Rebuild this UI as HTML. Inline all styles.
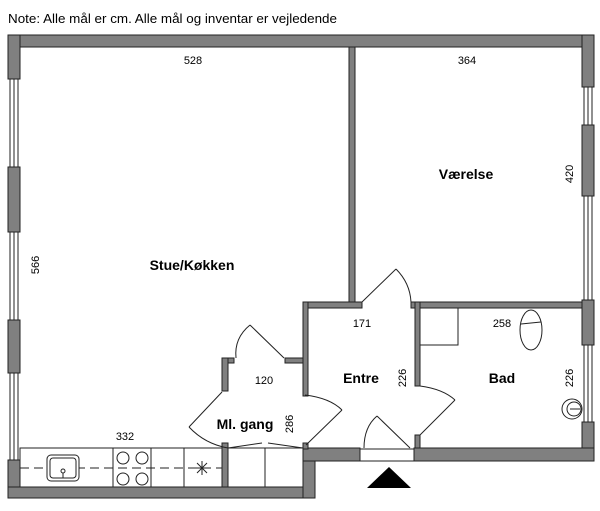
<!DOCTYPE html>
<html><head><meta charset="utf-8"><style>
html,body{margin:0;padding:0;background:#fff;width:600px;height:511px;overflow:hidden}
svg{display:block}
text{font-family:"Liberation Sans",sans-serif;fill:#000}
.d{font-size:11px}
.r{font-size:14px;font-weight:bold}
</style></head><body>
<svg width="600" height="511" viewBox="0 0 600 511">
<text x="8" y="23" font-size="13" textLength="329" lengthAdjust="spacingAndGlyphs">Note: Alle mål er cm. Alle mål og inventar er vejledende</text>
<g fill="#808080" stroke="#222" stroke-width="1">
<!-- top wall -->
<rect x="8" y="35" width="586" height="12"/>
<!-- left wall segments -->
<rect x="8" y="35" width="12" height="44"/>
<rect x="8" y="167" width="12" height="65"/>
<rect x="8" y="320" width="12" height="53"/>
<rect x="8" y="460" width="12" height="38"/>
<!-- right wall segments -->
<rect x="582" y="35" width="12" height="52"/>
<rect x="582" y="125" width="12" height="71"/>
<rect x="582" y="300" width="12" height="45"/>
<rect x="582" y="422" width="12" height="39"/>
<!-- bottom walls -->
<rect x="8" y="487" width="307" height="11"/>
<rect x="303" y="448" width="12" height="50"/>
<rect x="303" y="448" width="57" height="13"/>
<rect x="414" y="448" width="180" height="13"/>
<!-- interior -->
<rect x="349" y="47" width="6" height="256"/>
<rect x="303" y="302" width="59" height="6"/>
<rect x="411" y="302" width="171" height="6"/>
<rect x="303" y="302" width="5" height="94"/>
<rect x="303" y="443" width="5" height="6"/>
<rect x="415" y="302" width="5" height="84"/>
<rect x="415" y="435" width="5" height="13"/>
<rect x="222" y="358" width="12" height="5"/>
<rect x="222" y="358" width="6" height="33"/>
<rect x="285" y="358" width="18" height="5"/>
<rect x="222" y="443" width="6" height="44"/>
</g>
<g fill="#fff" stroke="#222" stroke-width="1">
<!-- windows -->
<rect x="10" y="79" width="8" height="88"/><line x1="14" y1="79" x2="14" y2="167"/>
<rect x="10" y="232" width="8" height="88"/><line x1="14" y1="232" x2="14" y2="320"/>
<rect x="10" y="373" width="8" height="87"/><line x1="14" y1="373" x2="14" y2="460"/>
<rect x="584" y="87" width="8" height="38"/><line x1="588" y1="87" x2="588" y2="125"/>
<rect x="584" y="196" width="8" height="104"/><line x1="588" y1="196" x2="588" y2="300"/>
<rect x="584" y="345" width="8" height="77"/><line x1="588" y1="345" x2="588" y2="422"/>
<rect x="360" y="449" width="54" height="12"/>
</g>
<g fill="none" stroke="#222" stroke-width="1">
<!-- doors -->
<line x1="284" y1="358" x2="250" y2="325"/><path d="M250 325 Q234 338 236 358"/>
<line x1="222" y1="392" x2="189" y2="427"/><path d="M189 427 Q205 444 228 448"/>
<path d="M305 395 Q330 398 342 410"/><line x1="342" y1="410" x2="306" y2="445"/>
<line x1="228" y1="448" x2="262" y2="443"/><line x1="268" y1="443" x2="303" y2="448"/>
<line x1="362" y1="302" x2="396" y2="269"/><path d="M396 269 Q410 283 411 302"/>
<path d="M420 386 Q443 389 455 400"/><line x1="455" y1="400" x2="420" y2="435"/>
<path d="M364 448 Q364 427 377 416"/><line x1="377" y1="416" x2="410" y2="448"/>
<!-- kitchen -->
<rect x="20" y="448" width="202" height="39"/>
<line x1="113" y1="448" x2="113" y2="487"/><line x1="151" y1="448" x2="151" y2="487"/><line x1="184" y1="448" x2="184" y2="487"/>
<line x1="20" y1="468" x2="222" y2="468" stroke-dasharray="9,5"/>
<rect x="228" y="448" width="75" height="39"/><line x1="265" y1="448" x2="265" y2="487"/>
<rect x="47" y="455" width="32" height="26" rx="4" fill="#fff"/><rect x="50" y="458" width="26" height="20" rx="3"/>
<circle cx="63" cy="471" r="2"/><line x1="63" y1="473" x2="63" y2="478"/>
<circle cx="123" cy="458" r="6"/><circle cx="142" cy="458" r="6"/><circle cx="123" cy="479" r="6"/><circle cx="142" cy="479" r="6"/>
<line x1="202" y1="461" x2="202" y2="475"/><line x1="195" y1="468" x2="209" y2="468"/><line x1="197" y1="463" x2="207" y2="473"/><line x1="207" y1="463" x2="197" y2="473"/>
<!-- bath -->
<rect x="420" y="308" width="38" height="37"/>
<ellipse cx="531" cy="330" rx="11" ry="20"/><line x1="521" y1="324" x2="541" y2="322"/>
<circle cx="572" cy="409" r="10"/><circle cx="574" cy="409" r="7"/><line x1="570" y1="409" x2="580" y2="409"/>
</g>
<polygon points="367,488 411,488 389,467" fill="#000"/>
<g class="d" text-anchor="middle">
<text x="193" y="64">528</text>
<text x="467" y="64">364</text>
<text x="125" y="440">332</text>
<text x="264" y="384">120</text>
<text x="362" y="327">171</text>
<text x="502" y="327">258</text>
<text transform="translate(39,265) rotate(-90)">566</text>
<text transform="translate(573,174) rotate(-90)">420</text>
<text transform="translate(293,424) rotate(-90)">286</text>
<text transform="translate(406,378) rotate(-90)">226</text>
<text transform="translate(573,378) rotate(-90)">226</text>
</g>
<g class="r" text-anchor="middle">
<text x="466" y="179">Værelse</text>
<text x="192" y="270">Stue/Køkken</text>
<text x="245" y="429">Ml. gang</text>
<text x="361" y="383">Entre</text>
<text x="502" y="383">Bad</text>
</g>
</svg>
</body></html>
